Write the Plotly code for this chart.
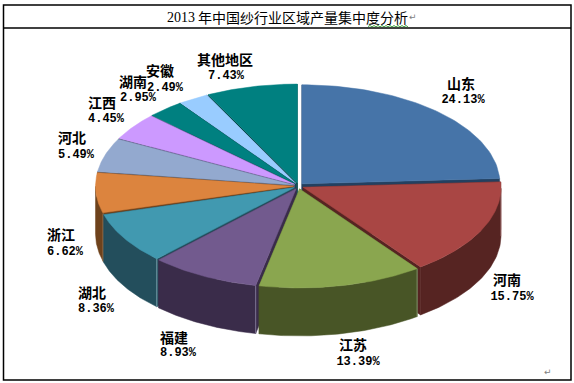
import math
import plotly.graph_objects as go

# ---- data ----
regions = ["山东", "河南", "江苏", "福建", "湖北", "浙江", "河北", "江西", "湖南", "安徽", "其他地区"]
shares = [24.13, 15.75, 13.39, 8.93, 8.36, 6.62, 5.49, 4.45, 2.95, 2.49, 7.43]
share_labels = ["24.13%", "15.75%", "13.39%", "8.93%", "8.36%", "6.62%", "5.49%", "4.45%", "2.95%", "2.49%", "7.43%"]
title_text = "年中国纱行业区域产量集中度分析"
title_year = "2013"

# ---- styles ----
top_colors = ["#4674A8", "#A94644", "#8AA64F", "#725A8E", "#4199B0", "#DC843E",
              "#93A9CF", "#CC99FF", "#008080", "#99CCFF", "#008080"]
side_colors = ["#234060", "#562422", "#485526", "#3A2C4A", "#234E5C", "#6E421C",
               "#4E5C75", "#6A4E88", "#004040", "#4E6B88", "#004444"]
edge_colors = ["#7090B0", "#A07070", "#80906A", "#7C7290", "#709AA6", "#A08060",
               "#8090A8", "#A080C8", "#408080", "#80A0C0", "#408080"]

CX, CY, RX, RY, DEPTH = 298.5, 186.0, 198.0, 99.0, 48.0
EX, EY = 5.0, 3.0
N_ARC = 60

fig = go.Figure()


def add_poly(xs, ys, color):
    fig.add_trace(go.Scatter(x=xs, y=ys, mode="lines", fill="toself", fillcolor=color,
                             line=dict(width=0.5, color=color), hoverinfo="skip", showlegend=False))


total = sum(shares)
slices = []
cum = 0.0
for i, v in enumerate(shares):
    a0 = cum / total * 2 * math.pi
    cum += v
    a1 = cum / total * 2 * math.pi
    slices.append((i, a0, a1, (a0 + a1) / 2))

# painter's order: back of the pie first
for i, a0, a1, mid in sorted(slices, key=lambda s: -math.cos(s[3])):
    ax = CX + EX * math.sin(mid)
    ay = CY - EY * math.cos(mid)
    angs = [a0 + (a1 - a0) * k / N_ARC for k in range(N_ARC + 1)]
    px = [ax + RX * math.sin(a) for a in angs]
    py = [ay - RY * math.cos(a) for a in angs]
    # radial walls
    for ex, ey in ((px[0], py[0]), (px[-1], py[-1])):
        add_poly([ax, ex, ex, ax, ax], [ay, ey, ey + DEPTH, ay + DEPTH, ay], side_colors[i])
    # outer wall, only where the rim faces the viewer
    fx = [x for x, a in zip(px, angs) if math.cos(a) <= 0]
    fy = [y for y, a in zip(py, angs) if math.cos(a) <= 0]
    if len(fx) > 1:
        add_poly(fx + [x for x in reversed(fx)], fy + [y + DEPTH for y in reversed(fy)], side_colors[i])
        # light vertical seam at the slice corners
        fig.add_trace(go.Scatter(x=[fx[0], fx[0]], y=[fy[0], fy[0] + DEPTH], mode="lines",
                                 line=dict(width=1, color=edge_colors[i]), hoverinfo="skip", showlegend=False))
    # top face
    add_poly([ax] + px + [ax], [ay] + py + [ay], top_colors[i])

# ---- labels ----
name_pos = [(461, 85), (507, 281), (353, 346), (174, 339), (92, 294), (61, 236),
            (72, 139), (102, 104), (133, 83), (160, 72), (225, 61)]
pct_pos = [(463, 100), (512, 297), (358, 362), (178, 353), (96, 309), (65, 252),
           (76, 155), (106, 119), (138, 98), (165, 88), (226, 76)]
fig.add_trace(go.Scatter(x=[p[0] for p in name_pos], y=[p[1] for p in name_pos], text=regions,
                         mode="text", textposition="middle center", hoverinfo="skip", showlegend=False,
                         textfont=dict(family="Noto Sans CJK SC", size=14, color="#000000", weight="bold")))
fig.add_trace(go.Scatter(x=[p[0] for p in pct_pos], y=[p[1] for p in pct_pos], text=share_labels,
                         mode="text", textposition="middle center", hoverinfo="skip", showlegend=False,
                         textfont=dict(family="Liberation Mono", size=12, color="#000000", weight="bold")))

annotations = [
    dict(x=167, y=17, text=title_year, xanchor="left", yanchor="middle", showarrow=False,
         font=dict(family="Liberation Serif", size=14, color="#000000")),
    dict(x=198, y=17, text=title_text, xanchor="left", yanchor="middle", showarrow=False,
         font=dict(family="Noto Sans CJK SC", size=14, color="#000000")),
    dict(x=413, y=17, text="↵", xanchor="center", yanchor="middle", showarrow=False,
         font=dict(family="DejaVu Sans", size=9, color="#808080")),
    dict(x=548, y=372, text="↵", xanchor="center", yanchor="middle", showarrow=False,
         font=dict(family="DejaVu Sans", size=9, color="#808080")),
]
for a in annotations:
    a.update(xref="x", yref="y", borderpad=0, borderwidth=0)

# wavy spell-check underline
wave = "M 368 26.5"
x_w = 368
k = 0
while x_w < 408:
    x_w += 2
    k += 1
    wave += f" L {x_w} {25.5 if k % 2 else 27}"

shapes = [
    dict(type="rect", x0=3.5, y0=5, x1=571, y1=380, line=dict(color="#000000", width=1.5), layer="below"),
    dict(type="line", x0=3.5, y0=28, x1=571, y1=28, line=dict(color="#000000", width=1.5), layer="below"),
    dict(type="path", path=wave, line=dict(color="#3CA03C", width=1), layer="above"),
]

fig.update_layout(
    width=574, height=383, margin=dict(l=0, r=0, t=0, b=0, pad=0),
    paper_bgcolor="#FFFFFF", plot_bgcolor="#FFFFFF", showlegend=False,
    xaxis=dict(range=[0, 574], visible=False, fixedrange=True),
    yaxis=dict(range=[383, 0], visible=False, fixedrange=True),
    annotations=annotations, shapes=shapes,
)
fig.write_html("out.html", config=dict(displayModeBar=False),
               post_script="document.body.style.margin='0';document.documentElement.style.overflow='hidden';")
